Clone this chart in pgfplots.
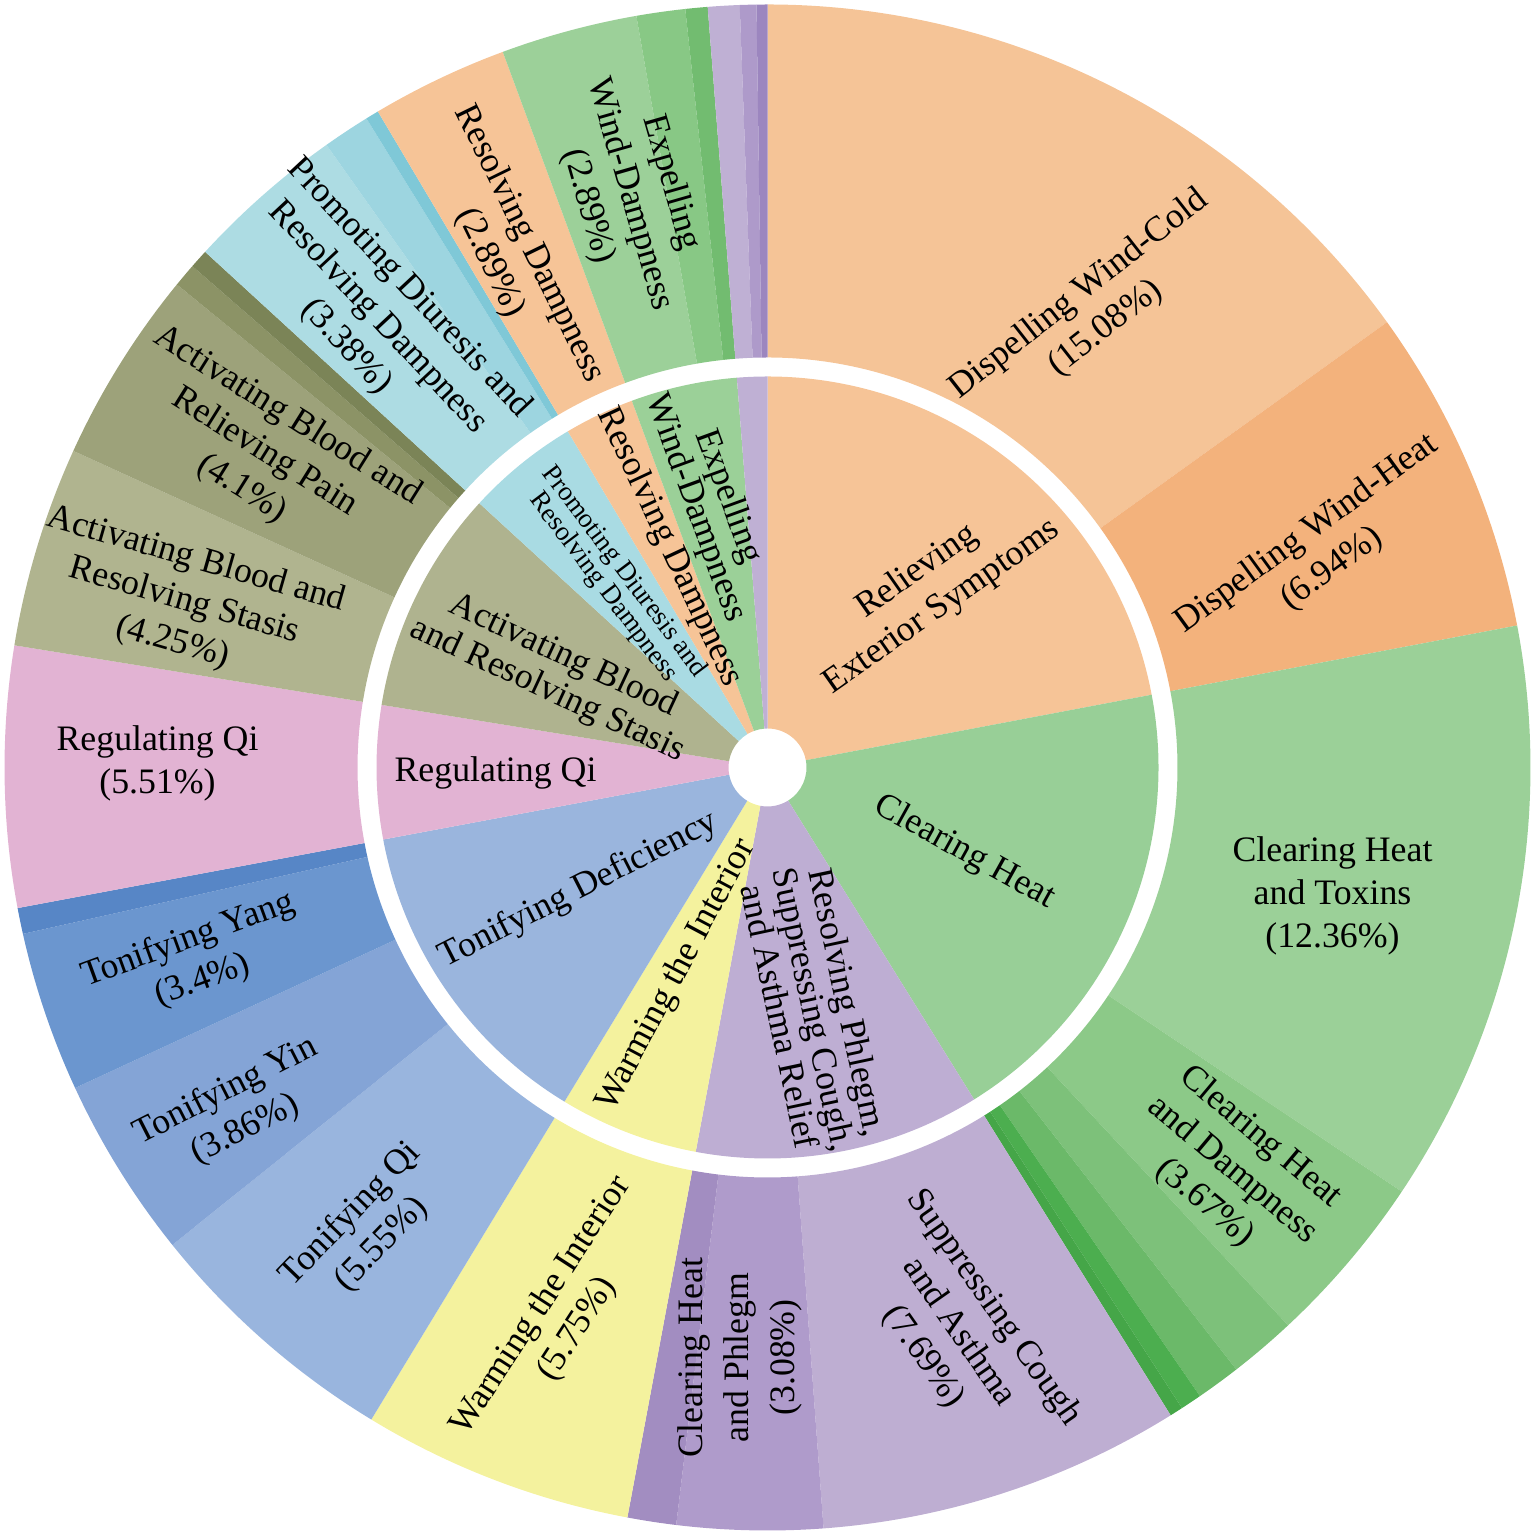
\documentclass[border=0pt]{standalone}
\usepackage{pgfplots}
\pgfplotsset{compat=1.18}
\usepackage{pgfplotstable}
\usepackage{fontspec}
\setmainfont{Liberation Serif}
\protected\def\nl{\\}
\pgfdeclareplotmark{nothing}{}

% outer ring colours
\definecolor{sc1}{HTML}{F5C497}
\definecolor{sc2}{HTML}{F3B27C}
\definecolor{sc3}{HTML}{9BD098}
\definecolor{sc4}{HTML}{8CC988}
\definecolor{sc5}{HTML}{7DC17A}
\definecolor{sc6}{HTML}{6BB969}
\definecolor{sc7}{HTML}{4CAE4F}
\definecolor{sc8}{HTML}{45A648}
\definecolor{sc9}{HTML}{BEAED2}
\definecolor{sc10}{HTML}{AF9BCB}
\definecolor{sc11}{HTML}{A28DC1}
\definecolor{sc12}{HTML}{F4F29E}
\definecolor{sc13}{HTML}{99B5DE}
\definecolor{sc14}{HTML}{84A4D6}
\definecolor{sc15}{HTML}{6B96CF}
\definecolor{sc16}{HTML}{5786C6}
\definecolor{sc17}{HTML}{E2B3D3}
\definecolor{sc18}{HTML}{B0B48F}
\definecolor{sc19}{HTML}{9DA27A}
\definecolor{sc20}{HTML}{8C9366}
\definecolor{sc21}{HTML}{7B8457}
\definecolor{sc22}{HTML}{ADDCE3}
\definecolor{sc23}{HTML}{9DD5E0}
\definecolor{sc24}{HTML}{7FC8D7}
\definecolor{sc25}{HTML}{F6C497}
\definecolor{sc26}{HTML}{9CD099}
\definecolor{sc27}{HTML}{88C885}
\definecolor{sc28}{HTML}{72BC70}
\definecolor{sc29}{HTML}{BFB0D4}
\definecolor{sc30}{HTML}{AE9ACA}
\definecolor{sc31}{HTML}{9C86BF}
% inner ring colours
\definecolor{sc41}{HTML}{F6C497}
\definecolor{sc42}{HTML}{98CF97}
\definecolor{sc43}{HTML}{BEAED3}
\definecolor{sc44}{HTML}{F4F29E}
\definecolor{sc45}{HTML}{9AB5DD}
\definecolor{sc46}{HTML}{E2B3D3}
\definecolor{sc47}{HTML}{AFB38F}
\definecolor{sc48}{HTML}{A9DBE3}
\definecolor{sc49}{HTML}{F6C497}
\definecolor{sc50}{HTML}{9BD098}
\definecolor{sc51}{HTML}{BFB0D4}

% sectors: cumulative percent start/end, inner/outer radius (px), colour id
\pgfplotstableread{
p0 p1 r0 r1 col
0.00 15.08 410 763 1
15.08 22.02 410 763 2
22.02 34.38 410 763 3
34.38 38.05 410 763 4
38.05 39.47 410 763 5
39.47 40.41 410 763 6
40.41 40.86 410 763 7
40.86 41.14 410 763 8
41.14 48.83 410 763 9
48.83 51.91 410 763 10
51.91 52.94 410 763 11
52.94 58.69 410 763 12
58.69 64.24 410 763 13
64.24 68.10 410 763 14
68.10 71.50 410 763 15
71.50 72.05 410 763 16
72.05 77.56 410 763 17
77.56 81.81 410 763 18
81.81 85.91 410 763 19
85.91 86.41 410 763 20
86.41 86.81 410 763 21
86.81 90.19 410 763 22
90.19 91.19 410 763 23
91.19 91.47 410 763 24
91.47 94.36 410 763 25
94.36 97.25 410 763 26
97.25 98.28 410 763 27
98.28 98.75 410 763 28
98.75 99.42 410 763 29
99.42 99.77 410 763 30
99.77 100.00 410 763 31
0.00 22.02 39 391 41
22.02 41.14 39 391 42
41.14 52.94 39 391 43
52.94 58.69 39 391 44
58.69 72.05 39 391 45
72.05 77.56 39 391 46
77.56 86.81 39 391 47
86.81 91.47 39 391 48
91.47 94.36 39 391 49
94.36 98.75 39 391 50
98.75 100.00 39 391 51
}\sectors

\pgfplotstableread[col sep=semicolon]{
X;Y;rot;fs;bs;label
325;456;38;17.9;21.5;Dispelling Wind-Cold\nl(15.08\%)
552;216;36;17.9;21.5;Dispelling Wind-Heat\nl(6.94\%)
565;-128;0;17.9;21.5;Clearing Heat\nl and Toxins\nl(12.36\%)
465;-403;-40;17.9;21.5;Clearing Heat\nl and Dampness\nl(3.67\%)
191;-565;-55;17.9;21.5;Suppressing Cough\nl and Asthma\nl(7.69\%)
-28;-590;90;17.9;23;Clearing Heat\nl and Phlegm\nl(3.08\%)
-208;-550;57;17.9;21.5;Warming the Interior\nl(5.75\%)
-401;-462;46;17.9;21.5;Tonifying Qi\nl(5.55\%)
-532;-343;27;17.9;21.5;Tonifying Yin\nl(3.86\%)
-572;-193;20;17.9;21.5;Tonifying Yang\nl(3.4\%)
-610;4;0;17.9;21.5;Regulating Qi\nl(5.51\%)
-583;166;-16;17.9;21.5;Activating Blood and\nl Resolving Stasis\nl(4.25\%)
-503;315;-32;17.9;21.5;Activating Blood and\nl Relieving Pain\nl(4.1\%)
-390;450;-47;17.9;21.5;Promoting Diuresis and\nl Resolving Dampness\nl(3.38\%)
-258;514;-64;17.9;21.5;Resolving Dampness\nl(2.89\%)
-138;573;-74;17.9;21.5;Expelling\nl Wind-Dampness\nl(2.89\%)
162;178;35;17.9;21.5;Relieving\nl Exterior Symptoms
197;-85;-29;17.9;21.5;Clearing Heat
47;-242;-78;17.9;16;Resolving Phlegm,\nl Suppressing Cough,\nl and Asthma Relief
-91;-208;62;17.9;21.5;Warming the Interior
-189;-123;27;17.9;21.5;Tonifying Deficiency
-272;-5;0;17.9;21.5;Regulating Qi
-212;94;-25;17.9;19;Activating Blood\nl and Resolving Stasis
-154;188;-53;13.5;13;Promoting Diuresis and\nl Resolving Dampness
-98;220;-65;17.9;21.5;Resolving Dampness
-56;265;-70;17.9;15.5;Expelling\nl Wind-Dampness
}\labels

\begin{document}
\begin{tikzpicture}
\begin{axis}[
  name=ax,
  x=0.5pt, y=0.5pt,
  xmin=-767.5, xmax=767.5, ymin=-767.5, ymax=767.5,
  hide axis, clip=false,
]
\addplot[draw=none, mark=none, forget plot] coordinates {(-767.5,-767.5) (767.5,767.5)};
\addplot[scatter, only marks, mark=nothing,
  point meta min=0, point meta max=1,
  visualization depends on={\thisrow{p0} \as \SecA},
  visualization depends on={\thisrow{p1} \as \SecB},
  visualization depends on={\thisrow{r0} \as \SecRa},
  visualization depends on={\thisrow{r1} \as \SecRb},
  visualization depends on={\thisrow{col} \as \SecC},
  scatter/@pre marker code/.code={%
    \pgfmathsetmacro\SecSa{90-3.6*\SecA}%
    \pgfmathsetmacro\SecSb{90-3.6*\SecB}%
    \pgfmathsetmacro\SecRi{0.5*\SecRa}%
    \pgfmathsetmacro\SecRo{0.5*\SecRb}%
    \pgfmathtruncatemacro\SecCi{round(\SecC)}%
    \fill[fill=sc\SecCi, draw=none] (\SecSa:\SecRi pt) arc[start angle=\SecSa, end angle=\SecSb, radius=\SecRi pt]
      -- (\SecSb:\SecRo pt) arc[start angle=\SecSb, end angle=\SecSa, radius=\SecRo pt] -- cycle;
  },
  scatter/@post marker code/.code={},
] table[x expr=0, y expr=0] {\sectors};
\addplot[scatter, only marks, mark=nothing,
  point meta=explicit symbolic,
  visualization depends on={\thisrow{rot} \as \Lrot},
  visualization depends on={\thisrow{fs} \as \Lfs},
  visualization depends on={\thisrow{bs} \as \Lbs},
  scatter/@pre marker code/.code={%
    \node[rotate=\Lrot, align=center, inner sep=0pt, text=black, draw=none,
      font=\fontsize{\Lfs}{\Lbs}\selectfont] at (0pt,0pt) {\pgfplotspointmeta};
  },
  scatter/@post marker code/.code={},
] table[x=X, y=Y, meta=label] {\labels};
\end{axis}
\pgfresetboundingbox
\path (ax.south west) rectangle (ax.north east);
\end{tikzpicture}
\end{document}
